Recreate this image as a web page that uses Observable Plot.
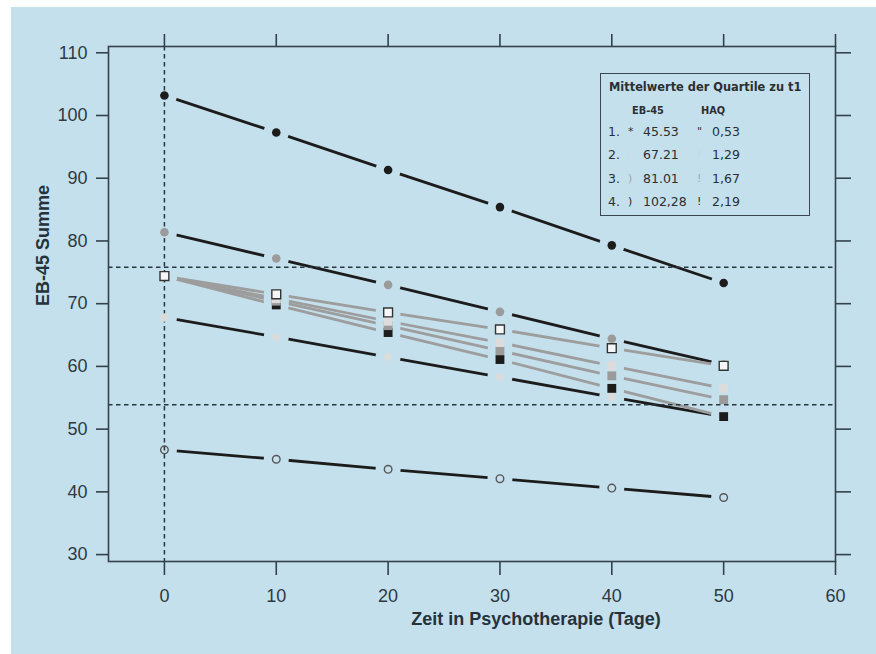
<!DOCTYPE html>
<html>
<head>
<meta charset="utf-8">
<script src="https://cdn.jsdelivr.net/npm/d3@7"></script>
<script src="https://cdn.jsdelivr.net/npm/@observablehq/plot@0.6"></script>
<style>
  html, body { margin: 0; padding: 0; background: #ffffff; }
  #wrap { position: absolute; left: 11px; top: 7px; width: 865px; height: 647px; background: #c4e0ec; overflow: hidden; }
  #legend { position: absolute; left: 589px; top: 66px; width: 208px; height: 141px; border: 1.8px solid #3a4650; font-family: "DejaVu Sans", sans-serif; color: #2a2f33; }
  #legend .t { position: absolute; white-space: nowrap; line-height: 1; }
</style>
</head>
<body>
<div id="wrap"><div id="chart"></div><div id="legend"></div></div>
<script>
// ---- data ----
const days = [0, 10, 20, 30, 40, 50];
const xTicks = [0, 10, 20, 30, 40, 50, 60];
const yTicks = [30, 40, 50, 60, 70, 80, 90, 100, 110];

// EB-45 quartile means (circles, black lines)
const eb45Q1 = [46.7, 45.2, 43.6, 42.1, 40.6, 39.1];
const eb45Q2 = [67.8, 64.7, 61.5, 58.3, 55.1, 52.0];
const eb45Q3 = [81.4, 77.2, 73.0, 68.7, 64.4, 60.3];
const eb45Q4 = [103.2, 97.3, 91.3, 85.4, 79.3, 73.3];

// HAQ quartiles (squares, grey lines)
const haqQ1 = [74.4, 71.5, 68.6, 65.9, 62.9, 60.1];
const haqQ2 = [74.4, 70.8, 67.2, 63.8, 60.1, 56.5];
const haqQ3 = [74.4, 70.4, 66.5, 62.5, 58.5, 54.7];
const haqQ4 = [74.4, 69.8, 65.4, 61.1, 56.5, 52.0];

const refY = [75.8, 53.9];
const refX = [0];

const legendTitle = "Mittelwerte der Quartile zu t1";
const legendHead = ["EB-45", "HAQ"];
const legendRank = ["1.", "2.", "3.", "4."];
const legendEB = ["45.53", "67.21", "81.01", "102,28"];
const legendHAQ = ["0,53", "1,29", "1,67", "2,19"];
const legendSym1 = ["*", ")", ")", ")"];
const legendSym2 = ["\"", "!", "!", "!"];

const xLabel = "Zeit in Psychotherapie (Tage)";
const yLabel = "EB-45 Summe";

// ---- styles ----
const BG = "#c4e0ec";
const INK = "#34414b";
const series = [
  {vals: eb45Q4, symbol: "circle", fill: "#1c1c1c", stroke: "none", line: "#1c1c1c", r: 4.3},
  {vals: eb45Q3, symbol: "circle", fill: "#9b9b9b", stroke: "none", line: "#1c1c1c", r: 4.3},
  {vals: eb45Q2, symbol: "circle", fill: "#d9dcdd", stroke: "none", line: "#1c1c1c", r: 4.3},
  {vals: eb45Q1, symbol: "circle", fill: "none", stroke: "#555", line: "#1c1c1c", r: 3.8},
  {vals: haqQ4, symbol: "square", fill: "#1c1c1c", stroke: "none", line: "#9d9d9d", r: 5},
  {vals: haqQ3, symbol: "square", fill: "#9b9b9b", stroke: "none", line: "#9d9d9d", r: 5},
  {vals: haqQ2, symbol: "square", fill: "#dcdcdc", stroke: "none", line: "#9d9d9d", r: 5},
  {vals: haqQ1, symbol: "square", fill: "#f4f6f7", stroke: "#333", line: "#9d9d9d", r: 5}
];
const rows = series.map(s => days.map((d, i) => ({day: d, v: s.vals[i]})));

const marks = [];
// lines
series.forEach((s, k) => marks.push(Plot.line(rows[k], {x: "day", y: "v", stroke: s.line, strokeWidth: 2.8})));
// gaps around points (type "b" look)
series.forEach((s, k) => marks.push(Plot.dot(rows[k], {x: "day", y: "v", r: 12.5, fill: BG, stroke: "none"})));
// reference dashed lines
marks.push(Plot.ruleY(refY, {stroke: "#2b3740", strokeWidth: 1.5, strokeDasharray: "4.5,3.5"}));
marks.push(Plot.ruleX(refX, {stroke: "#2b3740", strokeWidth: 1.5, strokeDasharray: "4.5,3.5"}));
// markers
series.forEach((s, k) => marks.push(Plot.dot(rows[k], {x: "day", y: "v", r: s.r, symbol: s.symbol, fill: s.fill, stroke: s.stroke, strokeWidth: 1.4})));
// frame and axes
marks.push(Plot.frame({stroke: INK, strokeWidth: 1.6}));
marks.push(Plot.axisX({anchor: "bottom", ticks: xTicks, tickSize: 14, tickPadding: 14, fontSize: 18, label: null, stroke: INK, strokeWidth: 1.6, fill: "#2e3a43"}));
marks.push(Plot.axisX({anchor: "top", ticks: xTicks, tickSize: 13, tickFormat: () => "", label: null, stroke: INK, strokeWidth: 1.6}));
marks.push(Plot.axisY({anchor: "left", ticks: yTicks, tickSize: 12, tickPadding: 9, fontSize: 18, label: null, stroke: INK, strokeWidth: 1.6, fill: "#2e3a43"}));
marks.push(Plot.axisY({anchor: "right", ticks: yTicks, tickSize: 15, tickFormat: () => "", label: null, stroke: INK, strokeWidth: 1.6}));
marks.push(Plot.text([xLabel], {frameAnchor: "bottom", dx: 64, dy: 63, fontSize: 18, fontWeight: "bold", fill: "#26323b"}));
marks.push(Plot.text([yLabel], {frameAnchor: "left", dx: -65, dy: 2, rotate: -90, fontSize: 18, fontWeight: "bold", fill: "#26323b"}));

const chart = Plot.plot({
  width: 865,
  height: 647,
  marginLeft: 97,
  marginRight: 41,
  marginTop: 39,
  marginBottom: 93,
  style: {background: BG, fontFamily: "'Liberation Sans', Arial, sans-serif", overflow: "visible"},
  x: {domain: [-5, 60]},
  y: {domain: [28.9, 111]},
  marks
});
document.getElementById("chart").appendChild(chart);

// ---- legend box ----
const lg = document.getElementById("legend");
function put(txt, left, top, size, weight, color) {
  const el = document.createElement("div");
  el.className = "t";
  el.textContent = txt;
  el.style.left = left + "px";
  el.style.top = top + "px";
  el.style.fontSize = size + "px";
  el.style.fontWeight = weight;
  if (color) el.style.color = color;
  lg.appendChild(el);
  return el;
}
put(legendTitle, 8, 8, 11.4, "bold");
put(legendHead[0], 31, 32, 9.8, "bold");
put(legendHead[1], 100, 32, 9.8, "bold");
const symColors1 = ["#333", "#d6dde1", "#9fa6aa", "#2a2a2a"];
const symColors2 = ["#333", "#cdd6db", "#9fa6aa", "#2a2a2a"];
legendRank.forEach((r, i) => {
  const top = 52 + i * 23.3;
  put(r, 7, top, 12.5, "normal");
  put(legendSym1[i], 27, top, 11, "normal", symColors1[i]);
  put(legendEB[i], 42, top, 12.5, "normal");
  put(legendSym2[i], 96, top, 11, "normal", symColors2[i]);
  put(legendHAQ[i], 111, top, 12.5, "normal");
});
</script>
</body>
</html>
